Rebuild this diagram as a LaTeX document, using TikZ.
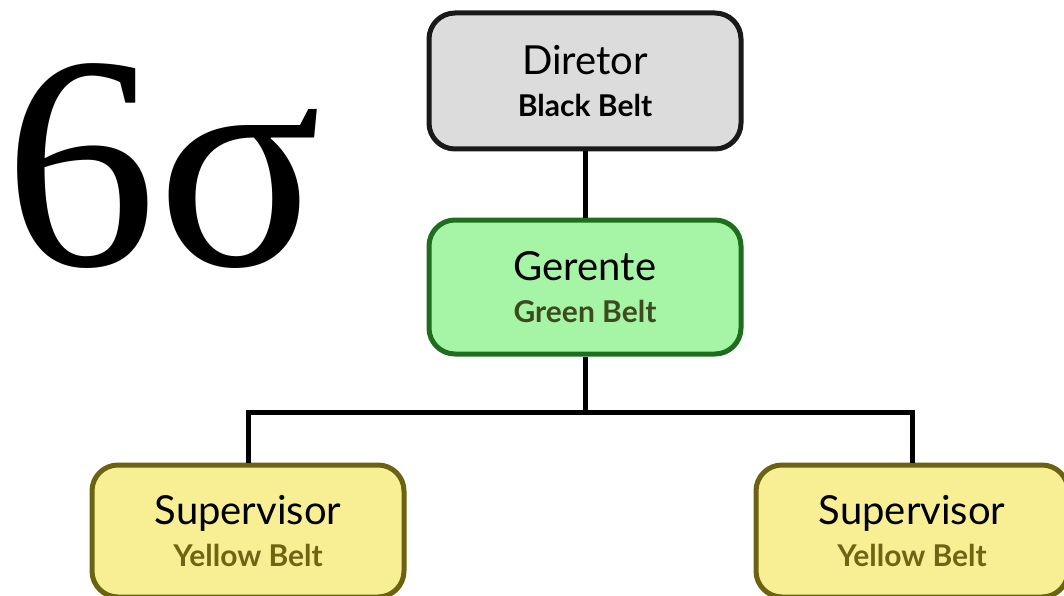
\documentclass[tikz,border=0pt]{standalone}
\usepackage{fontspec}
\setmainfont{Lato}
\newfontfamily\sigmafont{Liberation Serif}
\usepackage{xcolor}
\usetikzlibrary{positioning}

\definecolor{boxgray}{HTML}{DCDCDC}
\definecolor{boxgreen}{HTML}{A6F5A6}
\definecolor{edgegreen}{HTML}{1E6E1E}
\definecolor{txtgreen}{HTML}{3C4A1E}
\definecolor{boxyellow}{HTML}{F8EF94}
\definecolor{edgeyellow}{HTML}{6B6212}
\definecolor{txtyellow}{HTML}{6E6414}

\newcommand{\beltlabel}[3]{#1\\{\fontsize{30}{34}\selectfont\bfseries\color{#3} #2}}

\begin{document}
\begin{tikzpicture}[x=1pt,y=-1pt]
        \tikzstyle{belt} = [draw, rounded corners=26pt, line width=5pt, minimum width=312pt, align=center, inner sep=0pt, font=\fontsize{40}{42}\selectfont]
        \useasboundingbox (0,0) rectangle (1064,596);

        % title
        \node[anchor=base, inner sep=0pt] (six) at (163,265) {\sigmafont\fontsize{305}{305}\selectfont 6σ};

        % chart
        \node[belt, minimum height=136pt, fill=boxgray, draw=black!90] (dir) at (585,81) {\beltlabel{Diretor}{Black Belt}{black}};
        \node[belt, minimum height=134pt, fill=boxgreen, draw=edgegreen, below = 66pt of dir] (ger) {\beltlabel{Gerente}{Green Belt}{txtgreen}};
        \node[belt, minimum height=132pt, fill=boxyellow, draw=edgeyellow, below left = 106pt and 20pt of ger] (supl) {\beltlabel{Supervisor}{Yellow Belt}{txtyellow}};
        \node[belt, minimum height=132pt, fill=boxyellow, draw=edgeyellow, below right = 106pt and 10pt of ger] (supr) {\beltlabel{Supervisor}{Yellow Belt}{txtyellow}};

        \draw [line width=5pt] (dir) -- (ger);
        \draw [line width=5pt] (ger.south) -- ++(0,56) coordinate (bar);
        \draw [line width=5pt] (supl.north) |- (bar) -| (supr.north);
        \end{tikzpicture}
\end{document}
